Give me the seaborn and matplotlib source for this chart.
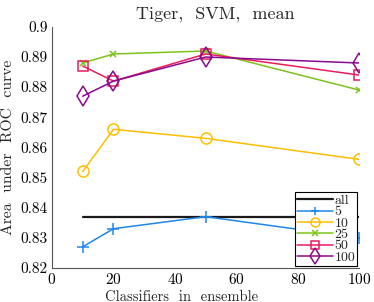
import pandas as pd
import numpy as np
import matplotlib
matplotlib.use("Agg")
import matplotlib.pyplot as plt
import seaborn as sns

sns.set_style("white")
plt.rcParams['font.family'] = ['cmr10', 'DejaVu Serif']
plt.rcParams['axes.formatter.use_mathtext'] = True
plt.rcParams['mathtext.fontset'] = 'cm'

# Data
classifiers = [10, 20, 50, 100]
auc_all = [0.837, 0.837, 0.837, 0.837]
auc_5 = [0.827, 0.833, 0.837, 0.830]
auc_10 = [0.852, 0.866, 0.863, 0.856]
auc_25 = [0.888, 0.891, 0.892, 0.879]
auc_50 = [0.887, 0.882, 0.891, 0.884]
auc_100 = [0.877, 0.882, 0.890, 0.888]

series = [("all", auc_all, "#1a1a1a", None, 8),
          ("5", auc_5, "#1f86e8", "+", 8),
          ("10", auc_10, "#ffbf00", "o", 8),
          ("25", auc_25, "#7dc31a", "x", 5),
          ("50", auc_50, "#ea1c5c", "s", 7),
          ("100", auc_100, "#8a0a8e", "d", 10)]

fig = plt.figure(figsize=(3.74, 3.02), dpi=100)
ax = fig.add_axes([0.139, 0.113, 0.822, 0.798])

for name, vals, col, mk, ms in series:
    df = pd.DataFrame({"x": classifiers, "y": vals})
    lw = 1.6 if name == "all" else 1.1
    sns.lineplot(data=df, x="x", y="y", ax=ax, color=col, lw=lw,
                 marker=mk, markersize=ms, markerfacecolor="none",
                 markeredgecolor=col, markeredgewidth=1.1, label=name)

ax.set_xlim(0, 100)
ax.set_ylim(0.82, 0.9)
ax.set_xticks([0, 20, 40, 60, 80, 100])
ax.set_yticks([0.82, 0.83, 0.84, 0.85, 0.86, 0.87, 0.88, 0.89, 0.9])
ax.set_yticklabels(["0.82", "0.83", "0.84", "0.85", "0.86", "0.87",
                    "0.88", "0.89", "0.9"])
ax.tick_params(direction="in", length=3, labelsize=11, colors="#333333",
               labelcolor="black", pad=3)

for s in ["top", "right"]:
    ax.spines[s].set_visible(False)
for s in ["left", "bottom"]:
    ax.spines[s].set_color("#555555")
    ax.spines[s].set_linewidth(0.8)

ax.set_title("Tiger,  SVM,  mean", fontsize=13, pad=6, x=0.53)
ax.set_xlabel("Classifiers  in  ensemble", fontsize=10.5, labelpad=2, x=0.42)
ax.set_ylabel("Area  under  ROC  curve", fontsize=11.3, labelpad=4)

leg = ax.legend(loc="lower right", fontsize=10, frameon=True, fancybox=False,
                edgecolor="black", framealpha=1, borderpad=0.15,
                labelspacing=-0.1, handlelength=2.6, handletextpad=0.1,
                borderaxespad=0.15, markerscale=0.8)
leg.get_frame().set_linewidth(0.8)

fig.savefig("out.png", dpi=100)
